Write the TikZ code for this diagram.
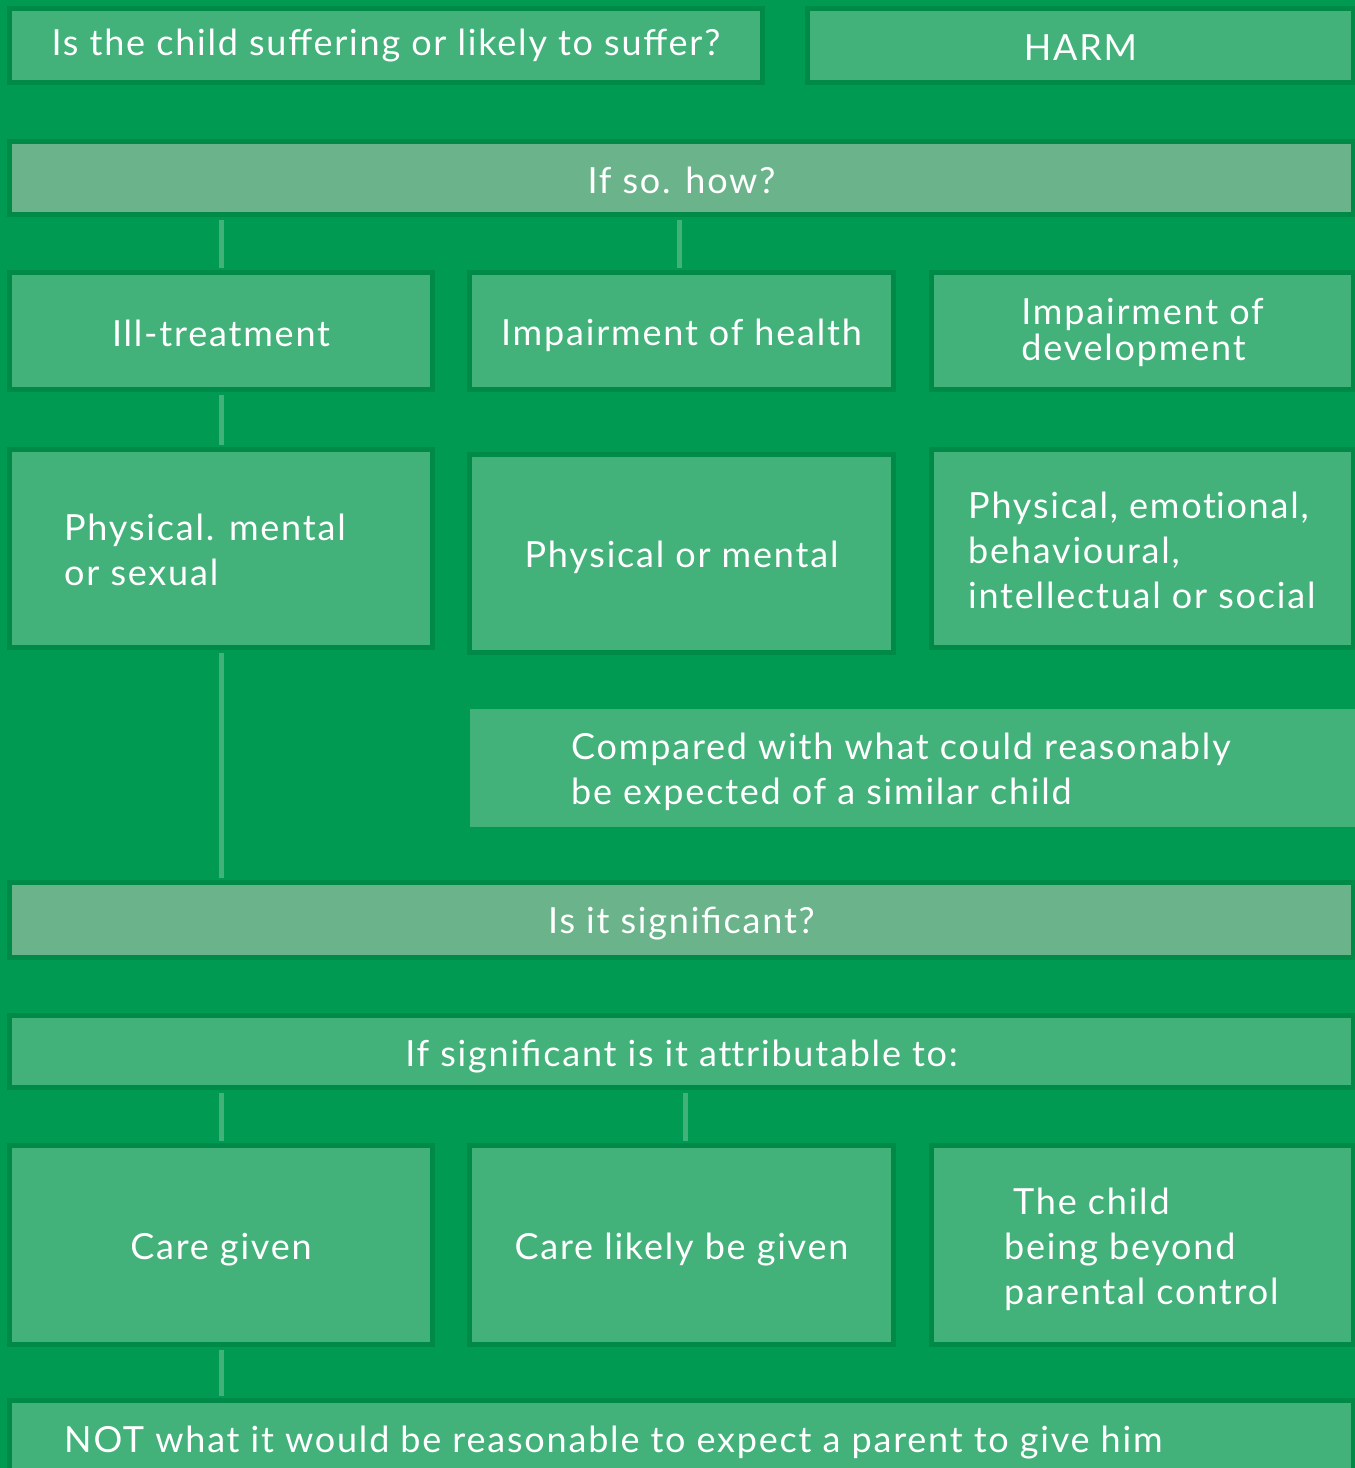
\documentclass[tikz,border=0pt]{standalone}
\usepackage{fontspec}
\setmainfont{Lato}[LetterSpace=5]
\definecolor{bggreen}{HTML}{009A52}
\definecolor{boxfill}{HTML}{43B17A}
\definecolor{boxedge}{HTML}{008A47}
\definecolor{greyfill}{HTML}{6BB48B}
\tikzset{
  card/.style={rectangle, inner sep=0pt, fill=boxfill, draw=boxedge, line width=5pt,
    text=white, font=\fontsize{36}{45}\selectfont, align=center},
  greycard/.style={card, fill=greyfill},
  plaincard/.style={card, draw=boxfill},
  label/.style={inner sep=0pt, text=white, font=\fontsize{36}{45}\selectfont, align=left},
  link/.style={draw=boxfill, line width=5pt, shorten <=2.5pt, shorten >=2.5pt}
}
% #1 name, #2 style, (#3,#4) outer top-left, (#5,#6) outer bottom-right, #7 text
\newcommand\cardat[7]{%
  \node[#2, minimum width={#5-#3-5}, minimum height={#6-#4-5}]
    (#1) at ({(#3+#5)/2},{(#4+#6)/2}) {#7};}
% lower a label a little inside its card without changing the card
\newcommand\low[2][4pt]{\raisebox{-#1}[\height][\depth]{#2}}
% keep two letters apart (no ligature)
\newcommand\nolig{\kern0pt}
\begin{document}
\begin{tikzpicture}[x=1pt, y=-1pt]
\useasboundingbox (0,0) rectangle (1355,1468);
\fill[bggreen] (0,0) rectangle (1355,1468);
\begin{scope}
\clip (0,0) rectangle (1355,1468);
\cardat{suffer}{card}{7}{6}{765}{85}{Is the child suffering or likely to suffer?}
\cardat{harm}{card}{805}{6}{1356}{85}{\low[2pt]{HARM}}
\cardat{how}{greycard}{7}{139}{1356}{217}{\low[2pt]{If so. how?}}
\cardat{ill}{card}{7}{270}{435}{392}{\low[2pt]{Ill-treatment}}
\cardat{health}{card}{467}{270}{896}{392}{\low{Impairment of health}}
\cardat{dev}{card}{929}{270}{1356}{392}{\low[2pt]{\begin{tabular}{@{}l@{}}Impairment of\\[-9pt]development\end{tabular}}}
\cardat{pms}{card}{7}{447}{435}{650}{}
\cardat{pm}{card}{467}{452}{896}{655}{\low{Physical or mental}}
\cardat{pebis}{card}{929}{447}{1356}{650}{}
\cardat{cmp}{plaincard}{470}{709}{1362}{827}{}
\cardat{sig}{greycard}{7}{880}{1356}{960}{\low{Is it significant?}}
\cardat{attr}{card}{7}{1013}{1356}{1090}{\low[5pt]{If significant is it at\nolig tributable to:}}
\cardat{cg}{card}{7}{1143}{435}{1347}{\low[5pt]{Care given}}
\cardat{clg}{card}{467}{1143}{896}{1347}{\low[5pt]{Care likely be given}}
\cardat{bpc}{card}{929}{1143}{1356}{1347}{}
\cardat{notbox}{card}{7}{1398}{1356}{1510}{}
\end{scope}
% left-aligned texts
\node[label, anchor=west] (pmstext) at (64,550) {Physical. mental\\or sexual};
\node[label, anchor=west] (pebistext) at (968,550) {Physical, emot\nolig ional,\\behavioural,\\intellectual or social};
\node[label, anchor=west] (cmptext) at (571,772) {Compared with what could reasonably\\be expected of a similar child};
\node[label, anchor=west] (bpctext) at (1004,1249) {\hspace{9pt}The child\\being beyond\\parental control};
\node[label, anchor=west] (nottext) at (64,1443) {NOT what it would be reasonable to expect a parent to give him};
% connectors
\draw[link] (ill.north) -- (ill.north |- how.south);
\draw[link] (health.north -| 679,0) -- (how.south -| 679,0);
\draw[link] (ill.south) -- (pms.north);
\draw[link] (pms.south) -- (pms.south |- sig.north);
\draw[link] (cg.north) -- (cg.north |- attr.south);
\draw[link] (clg.north -| 685,0) -- (attr.south -| 685,0);
\draw[link] (cg.south) -- (cg.south |- notbox.north);
\end{tikzpicture}
\end{document}
